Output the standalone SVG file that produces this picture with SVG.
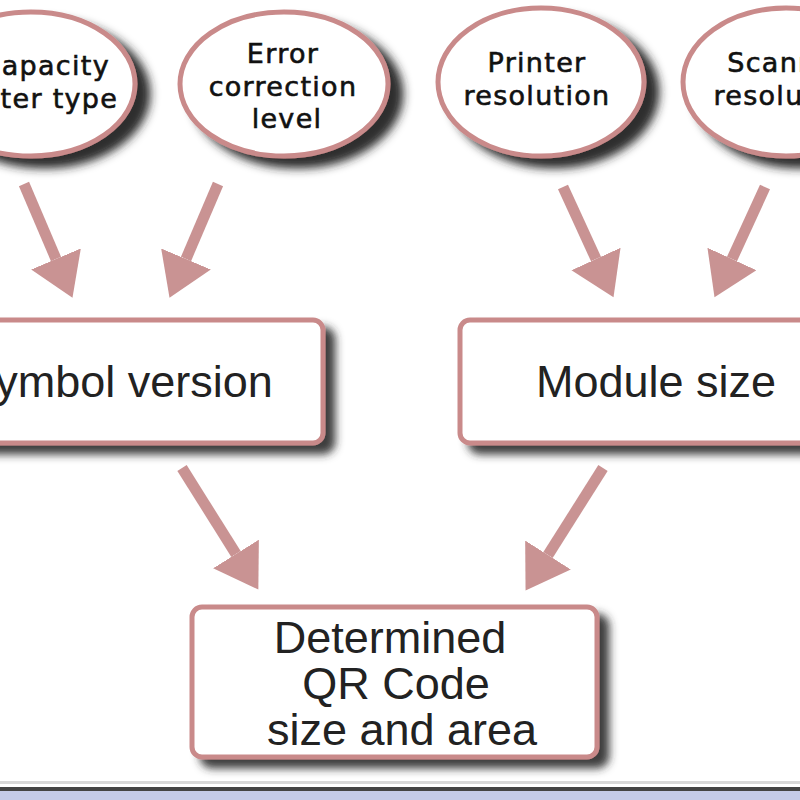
<svg xmlns="http://www.w3.org/2000/svg" width="800" height="800" viewBox="0 0 800 800">
<defs>
<filter id="shadow" x="-20%" y="-20%" width="150%" height="160%">
<feGaussianBlur in="SourceAlpha" stdDeviation="4" result="b"/>
<feOffset in="b" dx="10" dy="9" result="o"/>
<feFlood flood-color="#2a2a2a" flood-opacity="0.9"/>
<feComposite in2="o" operator="in" result="s"/>
<feMerge><feMergeNode in="s"/><feMergeNode in="SourceGraphic"/></feMerge>
</filter>
<filter id="shadowE" x="-20%" y="-20%" width="150%" height="160%">
<feGaussianBlur in="SourceAlpha" stdDeviation="5" result="b"/>
<feOffset in="b" dx="13" dy="10" result="o"/>
<feFlood flood-color="#222" flood-opacity="0.95"/>
<feComposite in2="o" operator="in" result="s"/>
<feMerge><feMergeNode in="s"/><feMergeNode in="SourceGraphic"/></feMerge>
</filter>
<marker id="head" markerUnits="userSpaceOnUse" markerWidth="44" markerHeight="56" refX="0" refY="27" orient="auto">
<path d="M0,0 L42,27 L0,54 Z" fill="#c99393"/>
</marker>
<style>
.ell{fill:#fff;stroke:#c98a8a;stroke-width:5}
.box{fill:#fff;stroke:#c98a8a;stroke-width:5}
.et{font-family:"DejaVu Sans",sans-serif;font-size:27px;letter-spacing:1.3px;fill:#111;stroke:#111;stroke-width:0.6px;text-anchor:middle}
.bt{font-family:"Liberation Sans",Arial,sans-serif;font-size:45px;fill:#222;text-anchor:middle}
.arr{stroke:#c99393;stroke-width:11;fill:none}
</style>
</defs>
<rect width="800" height="800" fill="#fff"/>

<g id="n-capacity">
<ellipse class="ell" filter="url(#shadowE)" cx="31" cy="84" rx="104" ry="72"/>
<text class="et" x="8" y="75">Data capacity</text>
<text class="et" x="8" y="108">Character type</text>
</g>
<g id="n-error">
<ellipse class="ell" filter="url(#shadowE)" cx="284" cy="84" rx="104" ry="72"/>
<text class="et" x="283" y="63">Error</text>
<text class="et" x="283" y="96">correction</text>
<text class="et" x="287" y="128">level</text>
</g>
<g id="n-printer">
<ellipse class="ell" filter="url(#shadowE)" cx="541" cy="82" rx="103" ry="74"/>
<text class="et" x="537" y="72">Printer</text>
<text class="et" x="537" y="105">resolution</text>
</g>
<g id="n-scanner">
<ellipse class="ell" filter="url(#shadowE)" cx="786" cy="82" rx="103" ry="74"/>
<text class="et" x="787" y="72">Scanner</text>
<text class="et" x="787" y="105">resolution</text>
</g>

<g id="n-symbol">
<rect class="box" filter="url(#shadow)" x="-60" y="320" width="383" height="123" rx="10"/>
<text class="bt" x="119" y="397">Symbol version</text>
</g>
<g id="n-module">
<rect class="box" filter="url(#shadow)" x="460" y="320" width="400" height="123" rx="10"/>
<text class="bt" x="656" y="397">Module size</text>
</g>
<g id="n-result">
<rect class="box" filter="url(#shadow)" x="192" y="607" width="405" height="150" rx="10"/>
<text class="bt" x="390" y="653">Determined</text>
<text class="bt" x="396" y="699">QR Code</text>
<text class="bt" x="402" y="745">size and area</text>
</g>

<g id="connectors">
<line class="arr" x1="24" y1="184" x2="56" y2="259" marker-end="url(#head)"/>
<line class="arr" x1="218" y1="184" x2="186" y2="259" marker-end="url(#head)"/>
<line class="arr" x1="563" y1="187" x2="596" y2="259" marker-end="url(#head)"/>
<line class="arr" x1="765" y1="187" x2="732" y2="259" marker-end="url(#head)"/>
<line class="arr" x1="182" y1="468" x2="236" y2="554" marker-end="url(#head)"/>
<line class="arr" x1="603" y1="468" x2="548" y2="555" marker-end="url(#head)"/>
</g>

<rect x="0" y="781" width="800" height="3" fill="#d8d8d8"/>
<rect x="0" y="787" width="800" height="4" fill="#444"/>
<rect x="0" y="791" width="800" height="9" fill="#c4cbe8"/>
</svg>
